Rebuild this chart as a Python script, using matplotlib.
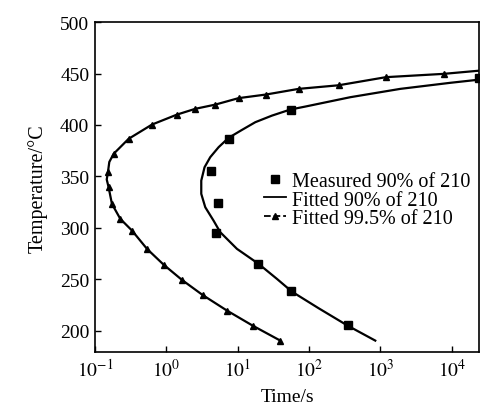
import numpy as np
import matplotlib
matplotlib.use('Agg')
from matplotlib import pyplot as plt
from matplotlib.lines import Line2D

# measured 90% transformation times (log10 of seconds) and temperatures
meas_logt = [4.38, 1.74, 0.88, 0.63, 0.72, 0.69, 1.29, 1.75, 2.55]
meas_T = [445.5, 414.7, 386.5, 355.0, 323.9, 295.0, 264.9, 238.3, 205.6]

# fitted 90% curve
fit90_logt = [4.398, 3.978, 3.277, 2.577, 1.947, 1.737, 1.480, 1.247, 1.060, 0.873,
              0.733, 0.616, 0.536, 0.490, 0.490, 0.546, 0.662, 0.756, 0.990, 1.293,
              1.550, 1.760, 2.133, 2.539, 2.927]
fit90_T = [444.2, 441.0, 435.1, 427.0, 417.9, 415.0, 409.1, 402.7, 395.2, 387.5,
           378.4, 368.7, 358.9, 345.9, 333.0, 320.0, 307.0, 295.7, 279.5, 264.9,
           250.3, 237.9, 221.8, 204.9, 190.3]

# fitted 99.5% curve
fit995_logt = [4.398, 3.884, 3.077, 2.413, 1.853, 1.396, 1.013, 0.686, 0.406, 0.150,
               -0.200, -0.528, -0.738, -0.798, -0.817, -0.834, -0.808, -0.761,
               -0.644, -0.480, -0.270, -0.038, 0.220, 0.508, 0.850, 1.209, 1.597]
fit995_T = [452.9, 449.7, 446.5, 438.6, 435.1, 429.6, 426.1, 419.8, 415.7, 410.1,
            400.4, 386.5, 371.9, 364.0, 354.1, 347.0, 339.5, 323.2,
            308.7, 297.3, 279.5, 264.2, 249.3, 234.7, 219.5, 204.9, 190.3]

# triangle markers on the 99.5% curve
tri_logt = [3.884, 3.077, 2.413, 1.853, 1.396, 1.013, 0.686, 0.406, 0.150, -0.200,
            -0.528, -0.738, -0.817, -0.808, -0.761, -0.644, -0.480, -0.270, -0.038,
            0.220, 0.508, 0.850, 1.209, 1.597]
tri_T = [449.7, 446.5, 438.6, 435.1, 429.6, 426.1, 419.8, 415.7, 410.1, 400.4,
         386.5, 371.9, 354.1, 339.5, 323.2, 308.7, 297.3, 279.5, 264.2,
         249.3, 234.7, 219.5, 204.9, 190.3]

xticks = [0.1, 1, 10, 100, 1000, 10000]
xticklabels = ['$10^{-1}$', '$10^{0}$', '$10^{1}$', '$10^{2}$', '$10^{3}$', '$10^{4}$']
yticks = [200, 250, 300, 350, 400, 450, 500]

plt.rcParams['font.family'] = ['Liberation Serif', 'DejaVu Serif']
plt.rcParams['mathtext.fontset'] = 'stix'

fig = plt.figure(figsize=(5.02, 4.06), dpi=100)
ax = fig.add_axes([0.189, 0.130, 0.766, 0.813])

ax.plot(10 ** np.array(fit90_logt), fit90_T, color='black', lw=1.6)
ax.plot(10 ** np.array(fit995_logt), fit995_T, color='black', lw=1.6)
ax.plot(10 ** np.array(tri_logt), tri_T, '^', color='black', ms=5)
ax.plot(10 ** np.array(meas_logt), meas_T, 's', color='black', ms=5.5)

ax.set_xscale('log')
ax.set_xlim(0.1, 2.43e4)
ax.set_ylim(179, 500)
ax.set_xticks(xticks)
ax.set_xticklabels(xticklabels)
ax.set_yticks(yticks)
ax.minorticks_off()
ax.tick_params(direction='in', length=4, width=1, labelsize=14, pad=4)
for s in ax.spines.values():
    s.set_linewidth(1.2)

ax.set_xlabel('Time/s', fontsize=14, labelpad=6)
ax.set_ylabel('Temperature/\u00b0C', fontsize=14.5, labelpad=9)

handles = [
    Line2D([], [], ls='none', marker='s', color='black', ms=5.5),
    Line2D([], [], color='black', lw=1.3),
    Line2D([], [], color='black', lw=1.3, ls='--', marker='^', ms=4),
]
labels = ['Measured 90% of 210', 'Fitted 90% of 210', 'Fitted 99.5% of 210']
ax.legend(handles, labels, loc='upper left', bbox_to_anchor=(0.44, 0.545),
          frameon=False, fontsize=14.5, labelspacing=-0.05, handlelength=1.1,
          handletextpad=0.3, borderpad=0, borderaxespad=0)

fig.savefig('out.png', dpi=100)
